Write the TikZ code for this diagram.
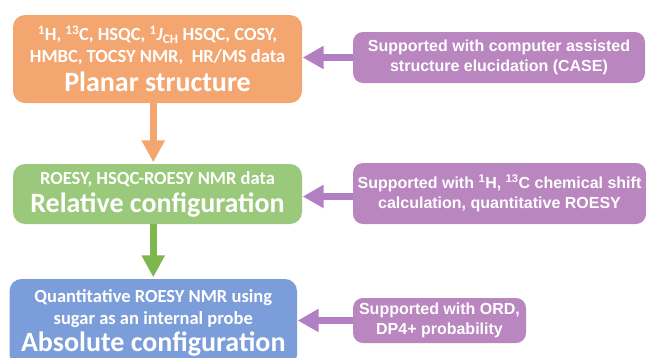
\documentclass[tikz,border=0pt]{standalone}
\usepackage{fontspec}
\setmainfont{Carlito}
\newfontfamily\arialfont{Liberation Sans}
\usetikzlibrary{arrows.meta,positioning}

\definecolor{planarorange}{HTML}{F4A671}
\definecolor{relgreen}{HTML}{9BC97C}
\definecolor{absblue}{HTML}{7B9DD9}
\definecolor{suppurple}{HTML}{BA86C0}
\definecolor{greenarrow}{HTML}{7DB74E}
\definecolor{purplearrow}{HTML}{B27FC2}

\begin{document}
\begin{tikzpicture}[x=1pt, y=-1pt,
        mainbox/.style={rounded corners=12pt, text=white, align=center, inner sep=0pt,
            minimum width=289pt, font=\bfseries\fontsize{18.5}{22}\selectfont},
        supbox/.style={rounded corners=10pt, fill=suppurple, text=white, align=center, inner sep=0pt,
            font=\arialfont\bfseries\fontsize{16}{20}\selectfont},
        downarrow/.style={line width=7pt, -{Triangle[width=22pt, length=22pt]}, shorten >=1.5pt},
        sidearrow/.style={purplearrow, line width=6.5pt, -{Triangle[width=22pt, length=21pt]}, shorten >=0.5pt}
    ]
        \useasboundingbox (0,0) rectangle (646,357);
        \clip (0,0) rectangle (646,357);

        % main steps
        \node[mainbox, fill=planarorange, minimum height=88pt] (planar) at (157.5,59)
            {\textsuperscript{1}H, \textsuperscript{13}C, HSQC, \textsuperscript{1}\textit{J}\textsubscript{CH} HSQC, COSY,\\
             HMBC, TOCSY NMR,~~HR/MS data\\[6pt]
             {\fontsize{28}{30}\selectfont Planar structure}};
        \node[mainbox, fill=relgreen, minimum height=60pt] (relative) at (157.5,194)
            {ROESY, HSQC-ROESY NMR data\\[5pt]
             {\fontsize{28}{30}\selectfont Relative configuration}};
        \node[mainbox, fill=absblue, minimum width=287.5pt, minimum height=88pt] (absolute) at (153.25,323)
            {Quantitative ROESY NMR using\\
             sugar as an internal probe\\[3pt]
             {\fontsize{28}{30}\selectfont Absolute configuration}};

        % supporting methods
        \node[supbox, minimum width=292pt, minimum height=51pt] (case) at (499,57.5)
            {Supported with computer assisted\\structure elucidation (CASE)};
        \node[supbox, minimum width=293pt, minimum height=61pt] (shift) at (499.5,193.5)
            {Supported with \textsuperscript{1}H, \textsuperscript{13}C chemical shift\\calculation, quantitative ROESY};
        \node[supbox, minimum width=173pt, minimum height=45pt] (ord) at (439.5,320.5)
            {Supported with ORD,\\DP4+ probability};

        % arrows
        \draw[downarrow, planarorange] (planar.south -| absolute.north) -- (relative.north -| absolute.north);
        \draw[downarrow, greenarrow] (relative.south -| absolute.north) -- (absolute.north);
        \draw[sidearrow] (case.west) -- (case.west -| planar.east);
        \draw[sidearrow] ([yshift=-3pt]shift.west) -- ([yshift=-3pt]shift.west -| relative.east);
        \draw[sidearrow] (ord.west) -- (ord.west -| absolute.east);
\end{tikzpicture}
\end{document}
